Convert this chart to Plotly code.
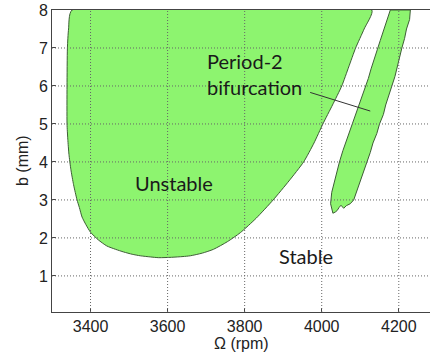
import plotly.graph_objects as go

# ---- data ----
# Unstable lobe boundary (Omega in rpm, b in mm), traced clockwise
unstable_rpm = [3352, 3343, 3340, 3339, 3339, 3341, 3344, 3349, 3356, 3365, 3371, 3378, 3388,
                3400, 3420, 3442, 3465, 3486, 3508, 3529, 3555, 3577, 3610, 3640, 3659,
                3690, 3719, 3755, 3789, 3830, 3874, 3915, 3953,
                3980, 4003, 4028, 4052, 4070, 4088, 4110, 4130, 3352]
unstable_b = [8.0, 7.5, 7.0, 6.0, 5.0, 4.6, 4.2, 3.8, 3.4, 3.0, 2.8, 2.55, 2.35,
              2.15, 1.95, 1.79, 1.7, 1.63, 1.57, 1.53, 1.5, 1.48, 1.49, 1.51, 1.53,
              1.6, 1.7, 1.9, 2.14, 2.52, 3.0, 3.5, 4.0,
              4.5, 5.0, 5.5, 6.0, 6.5, 7.0, 7.5, 8.0, 8.0]

# Period-2 bifurcation strip boundary (wavy)
p2_rpm = [4029, 4023, 4026, 4033, 4040, 4046, 4055, 4062, 4070, 4079, 4086, 4096, 4104,
          4113, 4121, 4128, 4137, 4144, 4152, 4158, 4166, 4172, 4178,
          4230, 4228, 4220, 4215, 4208, 4203, 4196, 4190, 4182, 4175, 4166, 4160,
          4150, 4143, 4133, 4126, 4117, 4110, 4100, 4092, 4083, 4074, 4064, 4057,
          4050, 4045, 4040, 4035, 4029]
p2_b = [2.65, 2.9, 3.2, 3.5, 3.75, 4.0, 4.3, 4.5, 4.75, 5.0, 5.2, 5.5, 5.72,
        6.0, 6.2, 6.45, 6.7, 6.95, 7.2, 7.4, 7.65, 7.85, 8.0,
        8.0, 7.75, 7.5, 7.25, 7.0, 6.75, 6.5, 6.25, 6.0, 5.75, 5.5, 5.25,
        5.0, 4.75, 4.5, 4.25, 4.0, 3.75, 3.5, 3.25, 3.0, 2.9, 2.85, 2.78,
        2.86, 2.8, 2.72, 2.68, 2.65]

x_ticks = [3400, 3600, 3800, 4000, 4200]
y_ticks = [1, 2, 3, 4, 5, 6, 7, 8]
x_range = [3300, 4281]
y_range = [0.05, 8]

label_pointer_rpm = [3970, 4126]
label_pointer_b = [5.83, 5.34]

FILL = "#8df46f"
EDGE = "#3d5e35"

fig = go.Figure()
fig.add_trace(go.Scatter(x=unstable_rpm, y=unstable_b, mode="lines", fill="toself",
                         fillcolor=FILL, line=dict(color=EDGE, width=1, shape="spline", smoothing=0.6),
                         hoverinfo="skip", showlegend=False))
fig.add_trace(go.Scatter(x=p2_rpm, y=p2_b, mode="lines", fill="toself",
                         fillcolor=FILL, line=dict(color=EDGE, width=1),
                         hoverinfo="skip", showlegend=False))
fig.add_trace(go.Scatter(x=label_pointer_rpm, y=label_pointer_b, mode="lines",
                         line=dict(color="#333333", width=1),
                         hoverinfo="skip", showlegend=False))

shapes = []
for xv in x_ticks:
    shapes.append(dict(type="line", xref="x", yref="paper", x0=xv, x1=xv, y0=0, y1=1,
                       line=dict(color="#666666", width=1, dash="1px,2px"), layer="above"))
for yv in y_ticks[:-1]:
    shapes.append(dict(type="line", xref="paper", yref="y", x0=0, x1=1, y0=yv, y1=yv,
                       line=dict(color="#666666", width=1, dash="1px,2px"), layer="above"))

txt_font = dict(family="Lato, 'Open Sans', sans-serif", size=20, color="#1a1a1a")
annotations = [
    dict(x=3617, y=3.44, xref="x", yref="y", text="Unstable", showarrow=False, font=txt_font),
    dict(x=3958, y=1.52, xref="x", yref="y", text="Stable", showarrow=False, font=txt_font),
    dict(x=3696, y=6.65, xref="x", yref="y", text="Period-2", showarrow=False,
         xanchor="left", yanchor="middle", font=txt_font),
    dict(x=3696, y=5.97, xref="x", yref="y", text="bifurcation", showarrow=False,
         xanchor="left", yanchor="middle", font=txt_font),
    dict(x=(241 - 52) / 378, y=-31 / 302, xref="paper", yref="paper", text="Ω (rpm)",
         xanchor="center", yanchor="middle",
         showarrow=False, font=dict(family="Liberation Sans, Arial", size=16, color="#222")),
    dict(x=-30 / 378, y=0.5, xref="paper", yref="paper", text="b (mm)", textangle=-90,
         xanchor="center", yanchor="middle",
         showarrow=False, font=dict(family="Liberation Sans, Arial", size=16, color="#222")),
]

axis_common = dict(showgrid=False, zeroline=False, showline=True, linecolor="#444444",
                   linewidth=1, ticks="inside", ticklen=4, tickcolor="#444444",
                   tickfont=dict(family="Liberation Sans, Arial", size=16, color="#222"))

fig.update_layout(
    width=430, height=352,
    margin=dict(l=52, r=0, t=10, b=40),
    paper_bgcolor="white", plot_bgcolor="white",
    xaxis=dict(range=x_range, tickvals=x_ticks, mirror=True, **axis_common),
    yaxis=dict(range=y_range, tickvals=y_ticks, mirror=False, **axis_common),
    shapes=shapes, annotations=annotations,
)

fig.write_html("out.html")
